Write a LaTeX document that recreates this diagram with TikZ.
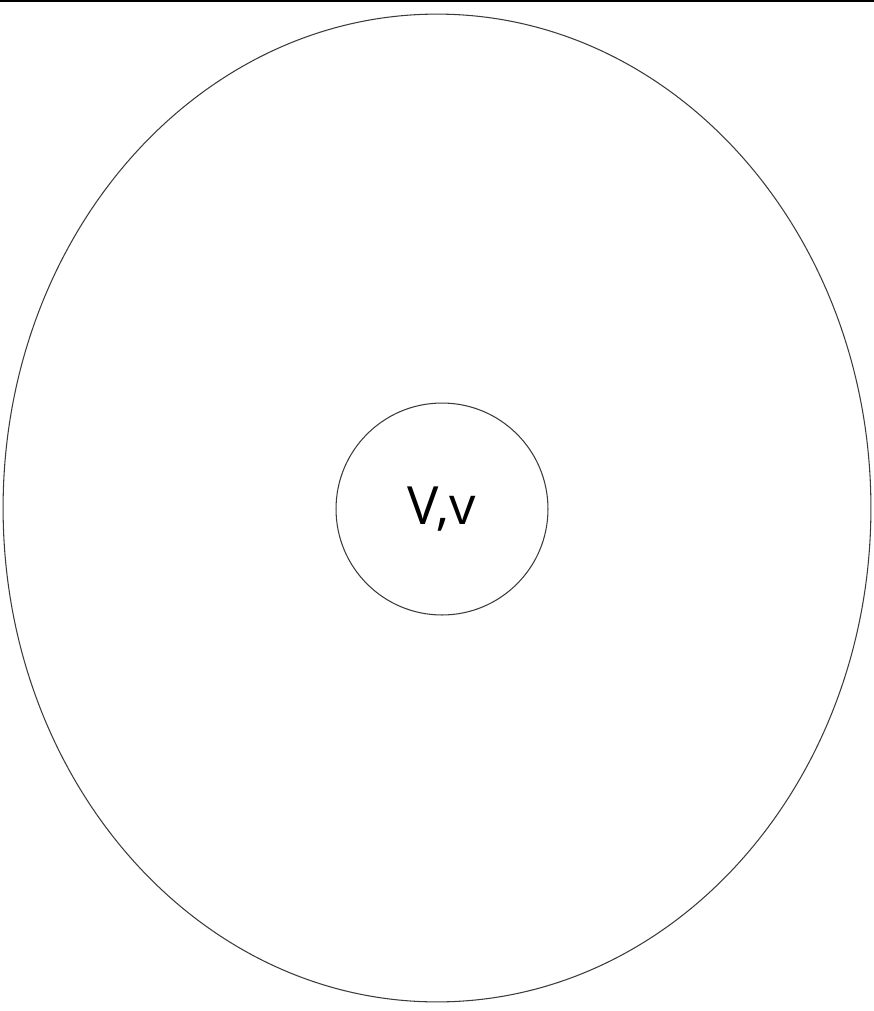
\documentclass[tikz,border=0pt]{standalone}
\usepackage{fontspec}
\setmainfont{Open Sans}
\usetikzlibrary{shapes.geometric}
\definecolor{Edge}{HTML}{3A3A3A}

\begin{document}
\begin{tikzpicture}[x=0.02cm, y=-0.02cm, every node/.style={align=center}]
      \useasboundingbox (0,0) rectangle (874,1011);
      \coordinate (tl) at (0,1);
      \coordinate (tr) at (874,1);
      \draw[line width=1.4pt, black] (tl) -- (tr);

      \node[draw=Edge, line width=0.6pt, ellipse, inner sep=0pt, minimum width=17.36cm, minimum height=19.76cm] (outer) at (437,508) {};
      \node[draw=Edge, line width=0.6pt, circle, inner sep=0pt, minimum size=4.24cm, font=\fontsize{30}{34}\selectfont] (inner) at (442,509) {V,v};
    \end{tikzpicture}
\end{document}
